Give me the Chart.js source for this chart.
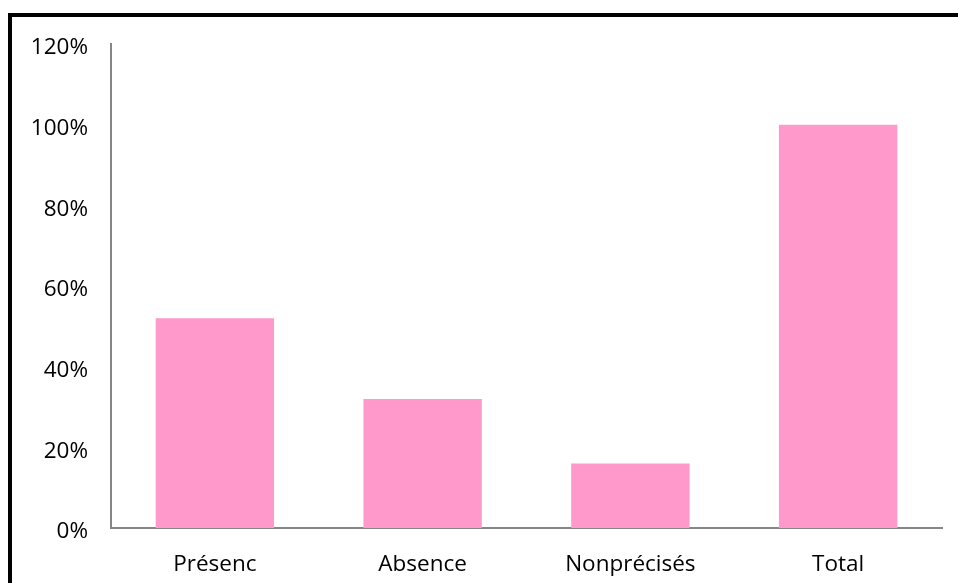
<!DOCTYPE html>
<html>
<head>
<meta charset="utf-8">
<script src="https://cdn.jsdelivr.net/npm/chart.js@4"></script>
<style>
    html, body { margin: 0; padding: 0; background: #fff; overflow: hidden; }
    #wrap { position: relative; width: 958px; height: 583px; }
    /* thick frame, only top and left edges fall inside the page */
    #frame {
        position: absolute; left: 8px; top: 13px; width: 1000px; height: 700px;
        border-top: 4px solid #000; border-left: 4px solid #000;
        pointer-events: none;
    }
</style>
</head>
<body>
<div id="wrap">
    <canvas id="graph" width="958" height="583"></canvas>
    <div id="frame"></div>
</div>
<script>
// Categories and percentages
const categories = ['Présenc', 'Absence', 'Nonprécisés', 'Total'];
const percentValues = [52, 32, 16, 100];
const yMax = 120;
const yStep = 20;

const labelFont = { family: "'Open Sans', sans-serif", size: 22.5 };

let ctx = document.getElementById('graph');

let barChart = new Chart(ctx, {
    type: 'bar',
    data: {
        labels: categories,
        datasets: [{
            data: percentValues,
            backgroundColor: '#FF99CC',
            borderWidth: 0,
            barPercentage: 0.57,
            categoryPercentage: 1.0
        }]
    },
    options: {
        responsive: false,
        animation: false,
        layout: {
            padding: { left: 0, top: 44, right: 16, bottom: 0 }
        },
        plugins: {
            legend: { display: false },
            tooltip: { enabled: false }
        },
        scales: {
            x: {
                grid: { display: false, drawTicks: false },
                border: { display: true, color: '#868686', width: 2 },
                ticks: { color: '#000', font: labelFont, padding: 23, maxRotation: 0 },
                afterFit: scale => { scale.height = 55; }
            },
            y: {
                min: 0,
                max: yMax,
                grid: { display: false, drawTicks: false },
                border: { display: true, color: '#868686', width: 2 },
                ticks: {
                    stepSize: yStep,
                    color: '#000',
                    font: labelFont,
                    padding: 23,
                    labelOffset: 4,
                    callback: v => v + '%'
                },
                afterFit: scale => { scale.width = 111; }
            }
        }
    }
});
</script>
</body>
</html>
